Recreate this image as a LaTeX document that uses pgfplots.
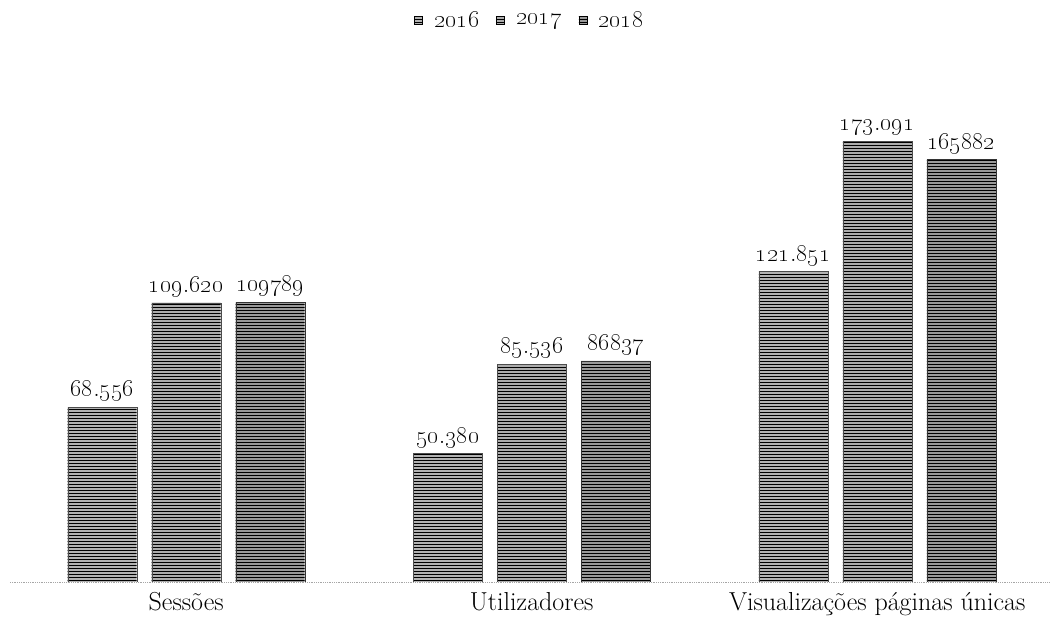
\documentclass[border=0pt]{standalone}
\usepackage{pgfplots}
\pgfplotsset{compat=1.18}
\usetikzlibrary{patterns}
\newcommand{\osn}[1]{\oldstylenums{#1}}
\newcommand{\legyear}[1]{{\fontsize{25}{28}\selectfont\oldstylenums{#1}}}
\begin{document}
\begin{tikzpicture}
\begin{axis}[
  at={(0,0)}, anchor=south west,
  scale only axis, width=1040pt, height=482pt,
  xmin=-0.51, xmax=2.5, ymin=0, ymax=189200,
  ybar=15pt, bar width=69pt,
  axis y line=none,
  axis x line*=bottom,
  x axis line style={gray!70, densely dotted, line width=0.8pt, -},
  xtick={0,1,2},
  xticklabels={Sessões, Utilizadores, Visualizações páginas únicas},
  major tick length=0pt,
  xticklabel style={font=\fontsize{26}{30}\selectfont, yshift=-7pt},
  point meta=explicit symbolic,
  nodes near coords,
  every node near coord/.append style={font=\fontsize{26}{29}\selectfont, yshift=2pt},
  legend style={at={(0.5,1.166)}, anchor=center, draw=none,
    legend columns=3,
    /tikz/every odd column/.append style={column sep=9pt},
    /tikz/every even column/.append style={column sep=15pt}},
  legend image code/.code={\draw[#1,draw=black,line width=0.6pt] (0pt,-4pt) rectangle (8pt,4pt);},
]
\addplot[fill=gray!60, draw=black!70, postaction={pattern=horizontal lines}] coordinates {
 (0,68556) [\osn{68}.\osn{556}]
 (1,50380) [\osn{50}.\osn{380}]
 (2,121851) [\osn{121}.\osn{851}]
};
\addplot[fill=gray!65, draw=black!70, postaction={pattern=horizontal lines}] coordinates {
 (0,109620) [\osn{109}.\osn{620}]
 (1,85536) [\osn{85}.\osn{536}]
 (2,173091) [\osn{173}.\osn{091}]
};
\addplot[fill=gray!80, draw=black!80, postaction={pattern=horizontal lines}] coordinates {
 (0,109789) [\osn{109789}]
 (1,86837) [\osn{86837}]
 (2,165882) [\osn{165882}]
};
\legend{\legyear{2016},\legyear{2017},\legyear{2018}}
\end{axis}
\path[use as bounding box] (-10pt,-41pt) rectangle (1051pt,582pt);
\end{tikzpicture}
\end{document}
